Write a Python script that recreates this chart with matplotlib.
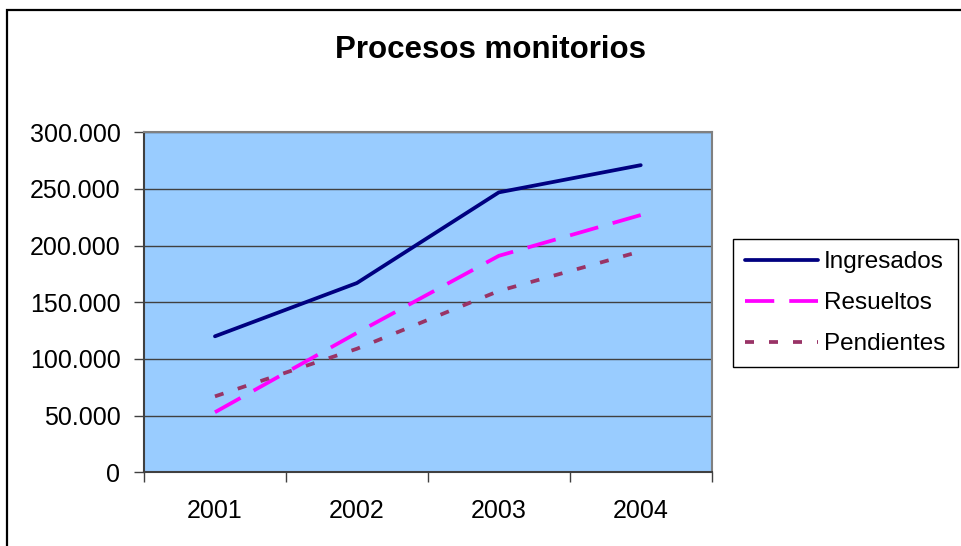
import matplotlib
matplotlib.use('Agg')
import matplotlib.pyplot as plt
from matplotlib.patches import Rectangle

plt.rcParams['font.family'] = ['Liberation Sans', 'DejaVu Sans']

years = ['2001', '2002', '2003', '2004']
ingresados = [120000, 167000, 247000, 271000]
resueltos = [53000, 123000, 191000, 227000]
pendientes = [67000, 109000, 160000, 195000]
yticks = [0, 50000, 100000, 150000, 200000, 250000, 300000]
ytick_labels = ['0', '50.000', '100.000', '150.000', '200.000', '250.000', '300.000']

fig = plt.figure(figsize=[9.62, 5.46], dpi=100)
fig.patch.set_facecolor('white')

# outer chart frame (continues past right/bottom edge)
fig.patches.append(Rectangle((7 / 962, -0.1), 1.2, 1 - 10 / 546 + 0.1,
                             transform=fig.transFigure, fill=False,
                             edgecolor='black', linewidth=1.6))

ax = fig.add_axes([144 / 962, 1 - 472.3 / 546, 567.7 / 962, 340 / 546])
ax.set_facecolor('#99CCFF')

x = [1, 2, 3, 4]
ax.plot(x, ingresados, color='#000080', lw=2.7, solid_capstyle='round',
        label='Ingresados')
ax.plot(x, resueltos, color='#FF00FF', lw=2.7, dashes=(7.8, 4.0),
        dash_capstyle='butt', label='Resueltos')
ax.plot(x, pendientes, color='#993366', lw=2.7, dashes=(2.4, 4.0),
        dash_capstyle='butt', label='Pendientes')

ax.set_xlim(0.5, 4.5)
ax.set_ylim(0, 300000)
ax.set_yticks(yticks)
ax.set_yticklabels(ytick_labels)
ax.yaxis.grid(True, color='#404040', lw=1)
ax.set_axisbelow(True)

ax.set_xticks([0.5, 1.5, 2.5, 3.5, 4.5])
ax.set_xticklabels([])
ax.set_xticks(x, minor=True)
ax.set_xticklabels(years, minor=True)
ax.tick_params(axis='x', which='major', length=7, width=1, color='#404040')
ax.tick_params(axis='x', which='minor', length=0, pad=19, labelsize=18)
ax.tick_params(axis='y', length=7, width=1, color='#404040', pad=10, labelsize=18)

for side in ['top', 'right']:
    ax.spines[side].set_color('#808080')
    ax.spines[side].set_linewidth(1.5)
for side in ['left', 'bottom']:
    ax.spines[side].set_color('#404040')
    ax.spines[side].set_linewidth(1.5)

fig.text(490.5 / 962, 1 - 50 / 546, 'Procesos monitorios', ha='center',
         va='center', fontsize=22.5, fontweight='bold')

leg = fig.legend(loc='upper left', bbox_to_anchor=(733 / 962, 1 - 239 / 546),
                 fontsize=17.5, frameon=True, fancybox=False, framealpha=1,
                 edgecolor='black', handlelength=3.0, handletextpad=0.25,
                 labelspacing=0.78, borderpad=0.5, borderaxespad=0)
leg.get_frame().set_linewidth(1)

plt.savefig('out.png', dpi=100)
plt.close()
